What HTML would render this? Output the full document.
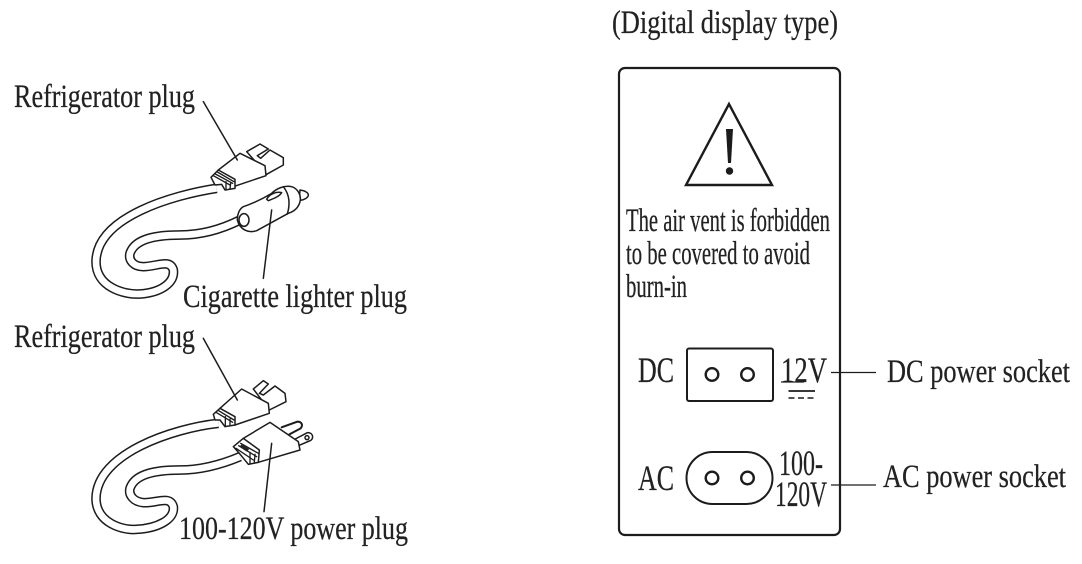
<!DOCTYPE html>
<html><head><meta charset="utf-8"><style>
html,body{margin:0;padding:0;background:#fff}
svg{display:block}
text{font-family:"Liberation Serif",serif;fill:#222;font-size:33px;stroke:#222;stroke-width:.25}
text.b{font-size:36px}
.l{fill:none;stroke:#1c1c1c;stroke-width:4.5;stroke-linejoin:round;stroke-linecap:round}
.f{fill:#fff;stroke:#1c1c1c;stroke-width:4.5;stroke-linejoin:round;stroke-linecap:round}
.r{fill:none;stroke:#1c1c1c;stroke-width:4;stroke-linecap:round}
.p{fill:#fff;stroke:#1c1c1c;stroke-width:2.4}
</style></head><body>
<svg width="1082" height="564" viewBox="0 0 1082 564" xmlns="http://www.w3.org/2000/svg">
<rect width="1082" height="564" fill="#fff"/>
<text x="14" y="107" textLength="181" lengthAdjust="spacingAndGlyphs">Refrigerator plug</text>
<text x="183" y="307" textLength="224" lengthAdjust="spacingAndGlyphs">Cigarette lighter plug</text>
<text x="14" y="347" textLength="181" lengthAdjust="spacingAndGlyphs">Refrigerator plug</text>
<text x="179" y="539" textLength="229" lengthAdjust="spacingAndGlyphs">100-120V power plug</text>
<text x="612" y="33" textLength="226" lengthAdjust="spacingAndGlyphs">(Digital display type)</text>

<g transform="translate(0,70) scale(.33333)">
<path d="M650,355 C520,375 290,440 288,575 C288,650 370,675 420,672 C480,668 525,640 520,600 C510,565 470,590 430,590 C400,590 385,570 390,550 C405,505 470,495 540,495 C600,495 660,480 720,450" fill="none" stroke="#1c1c1c" stroke-width="29"/>
<path d="M650,355 C520,375 290,440 288,575 C288,650 370,675 420,672 C480,668 525,640 520,600 C510,565 470,590 430,590 C400,590 385,570 390,550 C405,505 470,495 540,495 C600,495 660,480 720,450" fill="none" stroke="#fff" stroke-width="20"/>
<path class="f" d="M900,360 C915,362 925,368 925,375 C925,383 912,390 898,392 Z"/>
<path class="f" d="M730,410 C760,400 790,385 815,370 C830,355 855,345 875,350 C892,355 905,375 900,395 C895,415 880,425 865,430 L770,482 C745,490 720,480 712,450 C712,430 720,415 730,410 Z"/>
<path class="l" d="M850,350 C870,375 870,405 862,432"/>
<path class="f" d="M800,388 C808,372 828,364 845,368 C838,380 820,386 805,392 Z"/>
<ellipse class="f" cx="732" cy="450" rx="15" ry="19"/>
<path class="l" d="M815,420 L790,625"/>
</g>

<g transform="translate(200,135) scale(.33333)">
<path class="f" d="M140,50 L180,27 L205,42 L172,62 L182,70 L210,45 L250,68 L250,90 L200,118 Z"/>
<path class="f" d="M55,105 L120,55 L195,92 L198,122 L100,155 Z"/>
<path class="f" d="M33,127 L55,105 L105,133 L105,160 L75,165 L65,148 L45,150 Z"/>
<path class="r" d="M40,122 L90,150 M46,117 L98,145 M52,111 L102,140 M78,140 L78,165 M92,145 L90,162"/>
</g>
<path class="l" transform="translate(0,70) scale(.33333)" d="M610,95 L712,270"/>

<g transform="translate(0,310) scale(.33333)">
<path d="M655,340 C520,355 290,430 288,565 C288,640 370,662 410,658 C470,655 525,630 520,590 C510,555 470,580 430,578 C400,575 385,555 390,535 C405,490 470,480 540,480 C600,480 660,465 720,440" fill="none" stroke="#1c1c1c" stroke-width="29"/>
<path d="M655,340 C520,355 290,430 288,565 C288,640 370,662 410,658 C470,655 525,630 520,590 C510,555 470,580 430,578 C400,575 385,555 390,535 C405,490 470,480 540,480 C600,480 660,465 720,440" fill="none" stroke="#fff" stroke-width="20"/>
</g>

<g transform="translate(200,375) scale(.33333)">
<path class="f" d="M160,42 L190,17 L205,27 L178,55 L190,60 L225,33 L255,55 L258,80 L208,105 Z"/>
<path class="f" d="M60,100 L125,42 L205,85 L208,115 L105,150 Z"/>
<path class="f" d="M40,118 L60,100 L105,125 L105,150 L75,155 L60,135 L45,135 Z"/>
<path class="r" d="M48,112 L98,142 M54,106 L102,135 M76,125 L76,153 M90,132 L90,150"/>
<path d="M245,157 L292,140 C305,140 310,150 302,160 L268,178" fill="none" stroke="#1c1c1c" stroke-width="6" stroke-linecap="round"/>
<path class="f" d="M280,195 L322,173 C342,172 342,195 328,198 L295,212 Z"/>
<circle class="l" cx="321" cy="188" r="6"/>
<path class="f" d="M130,190 L210,142 L295,200 L300,225 L175,262 Z"/>
<path class="f" d="M100,215 L130,190 L178,225 L175,262 L145,268 L118,235 Z"/>
<path class="r" d="M108,220 L160,255 M116,212 L170,245 M122,205 L175,235 M150,232 L150,265 M165,238 L163,262"/>
<path d="M125,208 L148,222 L140,230 L118,215 Z" fill="#222"/>
</g>
<g transform="translate(0,310) scale(.33333)">
<path class="l" d="M610,85 L712,270"/>
<path class="l" d="M815,400 L792,605"/>
</g>

<rect x="619" y="68" width="221" height="467" rx="6" fill="none" stroke="#1c1c1c" stroke-width="2.2"/>
<path d="M729,104 L686,185 L772,185 Z" fill="none" stroke="#1c1c1c" stroke-width="2.4"/>
<path d="M726,129 L733,129 L731,163 L728,163 Z" fill="#1c1c1c"/>
<circle cx="729.5" cy="171" r="3.7" fill="#1c1c1c"/>
<text x="626" y="231" textLength="204" lengthAdjust="spacingAndGlyphs">The air vent is forbidden</text>
<text x="626" y="264" textLength="184" lengthAdjust="spacingAndGlyphs">to be covered to avoid</text>
<text x="626" y="297" textLength="61" lengthAdjust="spacingAndGlyphs">burn-in</text>

<text class="b" x="638" y="382" textLength="36" lengthAdjust="spacingAndGlyphs">DC</text>
<rect x="687" y="348.5" width="86" height="52.5" rx="2" fill="none" stroke="#1c1c1c" stroke-width="2"/>
<circle class="p" cx="712" cy="374.5" r="6.3"/>
<circle class="p" cx="747.5" cy="374.5" r="6.3"/>
<text class="b" x="781" y="382" textLength="46" lengthAdjust="spacingAndGlyphs">12V</text>
<path d="M781,382 H804" stroke="#1c1c1c" stroke-width="1.2"/>
<path d="M788.5,391 H815" stroke="#1c1c1c" stroke-width="1.8"/>
<path d="M788.5,398 H815" stroke="#1c1c1c" stroke-width="1.6" stroke-dasharray="6 3.5"/>
<path d="M831,372.5 H876" stroke="#1c1c1c" stroke-width="1.3"/>
<text x="887" y="382" textLength="183" lengthAdjust="spacingAndGlyphs">DC power socket</text>

<text class="b" x="638" y="490" textLength="36" lengthAdjust="spacingAndGlyphs">AC</text>
<rect x="686.5" y="452" width="86" height="52" rx="26" fill="none" stroke="#1c1c1c" stroke-width="2"/>
<circle class="p" cx="712" cy="478" r="6.3"/>
<circle class="p" cx="747.5" cy="478" r="6.3"/>
<text class="b" x="779" y="475" textLength="44" lengthAdjust="spacingAndGlyphs">100-</text>
<text class="b" x="775" y="506" textLength="52" lengthAdjust="spacingAndGlyphs">120V</text>
<path d="M831,485 H876" stroke="#1c1c1c" stroke-width="1.3"/>
<text x="883" y="487" textLength="183" lengthAdjust="spacingAndGlyphs">AC power socket</text>
</svg>
</body></html>
